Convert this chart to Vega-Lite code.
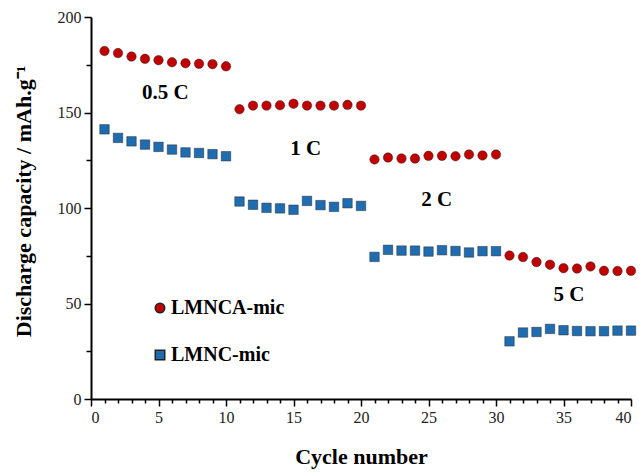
{
  "$schema": "https://vega.github.io/schema/vega-lite/v6.json",
  "width": 540,
  "height": 382,
  "autosize": "none",
  "padding": {"left": 91, "top": 17, "right": 13, "bottom": 73},
  "background": "white",
  "config": {
    "view": {"stroke": null},
    "axis": {
      "grid": false,
      "labelFont": "Liberation Serif",
      "labelFontSize": 16,
      "labelColor": "#222",
      "titleFont": "Liberation Serif",
      "titleFontWeight": "bold",
      "titleColor": "black",
      "domainColor": "black",
      "domainWidth": 2,
      "tickColor": "black",
      "tickWidth": 1.5
    }
  },
  "datasets": {
    "pts": [
      {"cycle": 1, "capacity": 182.2, "series": "LMNCA-mic"},
      {"cycle": 2, "capacity": 181.1, "series": "LMNCA-mic"},
      {"cycle": 3, "capacity": 179.3, "series": "LMNCA-mic"},
      {"cycle": 4, "capacity": 178.1, "series": "LMNCA-mic"},
      {"cycle": 5, "capacity": 177.4, "series": "LMNCA-mic"},
      {"cycle": 6, "capacity": 176.3, "series": "LMNCA-mic"},
      {"cycle": 7, "capacity": 175.8, "series": "LMNCA-mic"},
      {"cycle": 8, "capacity": 175.5, "series": "LMNCA-mic"},
      {"cycle": 9, "capacity": 175.3, "series": "LMNCA-mic"},
      {"cycle": 10, "capacity": 174.2, "series": "LMNCA-mic"},
      {"cycle": 11, "capacity": 151.7, "series": "LMNCA-mic"},
      {"cycle": 12, "capacity": 153.6, "series": "LMNCA-mic"},
      {"cycle": 13, "capacity": 153.6, "series": "LMNCA-mic"},
      {"cycle": 14, "capacity": 153.8, "series": "LMNCA-mic"},
      {"cycle": 15, "capacity": 154.6, "series": "LMNCA-mic"},
      {"cycle": 16, "capacity": 153.6, "series": "LMNCA-mic"},
      {"cycle": 17, "capacity": 153.6, "series": "LMNCA-mic"},
      {"cycle": 18, "capacity": 153.6, "series": "LMNCA-mic"},
      {"cycle": 19, "capacity": 154.0, "series": "LMNCA-mic"},
      {"cycle": 20, "capacity": 153.6, "series": "LMNCA-mic"},
      {"cycle": 21, "capacity": 125.4, "series": "LMNCA-mic"},
      {"cycle": 22, "capacity": 126.4, "series": "LMNCA-mic"},
      {"cycle": 23, "capacity": 125.9, "series": "LMNCA-mic"},
      {"cycle": 24, "capacity": 125.9, "series": "LMNCA-mic"},
      {"cycle": 25, "capacity": 127.3, "series": "LMNCA-mic"},
      {"cycle": 26, "capacity": 127.3, "series": "LMNCA-mic"},
      {"cycle": 27, "capacity": 127.1, "series": "LMNCA-mic"},
      {"cycle": 28, "capacity": 128.0, "series": "LMNCA-mic"},
      {"cycle": 29, "capacity": 127.5, "series": "LMNCA-mic"},
      {"cycle": 30, "capacity": 128.0, "series": "LMNCA-mic"},
      {"cycle": 31, "capacity": 75.1, "series": "LMNCA-mic"},
      {"cycle": 32, "capacity": 74.3, "series": "LMNCA-mic"},
      {"cycle": 33, "capacity": 71.7, "series": "LMNCA-mic"},
      {"cycle": 34, "capacity": 70.3, "series": "LMNCA-mic"},
      {"cycle": 35, "capacity": 68.5, "series": "LMNCA-mic"},
      {"cycle": 36, "capacity": 68.3, "series": "LMNCA-mic"},
      {"cycle": 37, "capacity": 69.4, "series": "LMNCA-mic"},
      {"cycle": 38, "capacity": 67.1, "series": "LMNCA-mic"},
      {"cycle": 39, "capacity": 67.0, "series": "LMNCA-mic"},
      {"cycle": 40, "capacity": 67.1, "series": "LMNCA-mic"},
      {"cycle": 1, "capacity": 141.2, "series": "LMNC-mic"},
      {"cycle": 2, "capacity": 136.7, "series": "LMNC-mic"},
      {"cycle": 3, "capacity": 134.9, "series": "LMNC-mic"},
      {"cycle": 4, "capacity": 133.2, "series": "LMNC-mic"},
      {"cycle": 5, "capacity": 132.0, "series": "LMNC-mic"},
      {"cycle": 6, "capacity": 130.6, "series": "LMNC-mic"},
      {"cycle": 7, "capacity": 129.1, "series": "LMNC-mic"},
      {"cycle": 8, "capacity": 128.8, "series": "LMNC-mic"},
      {"cycle": 9, "capacity": 128.2, "series": "LMNC-mic"},
      {"cycle": 10, "capacity": 127.1, "series": "LMNC-mic"},
      {"cycle": 11, "capacity": 103.4, "series": "LMNC-mic"},
      {"cycle": 12, "capacity": 101.7, "series": "LMNC-mic"},
      {"cycle": 13, "capacity": 100.1, "series": "LMNC-mic"},
      {"cycle": 14, "capacity": 99.8, "series": "LMNC-mic"},
      {"cycle": 15, "capacity": 99.1, "series": "LMNC-mic"},
      {"cycle": 16, "capacity": 103.7, "series": "LMNC-mic"},
      {"cycle": 17, "capacity": 101.5, "series": "LMNC-mic"},
      {"cycle": 18, "capacity": 100.6, "series": "LMNC-mic"},
      {"cycle": 19, "capacity": 102.5, "series": "LMNC-mic"},
      {"cycle": 20, "capacity": 101.1, "series": "LMNC-mic"},
      {"cycle": 21, "capacity": 74.4, "series": "LMNC-mic"},
      {"cycle": 22, "capacity": 78.1, "series": "LMNC-mic"},
      {"cycle": 23, "capacity": 77.7, "series": "LMNC-mic"},
      {"cycle": 24, "capacity": 77.7, "series": "LMNC-mic"},
      {"cycle": 25, "capacity": 77.2, "series": "LMNC-mic"},
      {"cycle": 26, "capacity": 77.9, "series": "LMNC-mic"},
      {"cycle": 27, "capacity": 77.5, "series": "LMNC-mic"},
      {"cycle": 28, "capacity": 76.7, "series": "LMNC-mic"},
      {"cycle": 29, "capacity": 77.4, "series": "LMNC-mic"},
      {"cycle": 30, "capacity": 77.4, "series": "LMNC-mic"},
      {"cycle": 31, "capacity": 30.2, "series": "LMNC-mic"},
      {"cycle": 32, "capacity": 34.8, "series": "LMNC-mic"},
      {"cycle": 33, "capacity": 35.1, "series": "LMNC-mic"},
      {"cycle": 34, "capacity": 36.7, "series": "LMNC-mic"},
      {"cycle": 35, "capacity": 36.0, "series": "LMNC-mic"},
      {"cycle": 36, "capacity": 35.6, "series": "LMNC-mic"},
      {"cycle": 37, "capacity": 35.5, "series": "LMNC-mic"},
      {"cycle": 38, "capacity": 35.5, "series": "LMNC-mic"},
      {"cycle": 39, "capacity": 35.8, "series": "LMNC-mic"},
      {"cycle": 40, "capacity": 35.8, "series": "LMNC-mic"}
    ],
    "notes": [
      {"cycle": 5.5, "capacity": 160, "label": "0.5 C"},
      {"cycle": 15.9, "capacity": 131, "label": "1 C"},
      {"cycle": 25.6, "capacity": 104, "label": "2 C"},
      {"cycle": 35.4, "capacity": 54.5, "label": "5 C"}
    ]
  },
  "encoding": {
    "x": {
      "field": "cycle", "type": "quantitative",
      "scale": {"domain": [0, 40], "nice": false},
      "axis": {
        "orient": "bottom",
        "domain": true, "domainColor": "black", "domainWidth": 2,
        "ticks": true, "tickColor": "black", "tickWidth": 1.5,
        "values": [0,1,2,3,4,5,6,7,8,9,10,11,12,13,14,15,16,17,18,19,20,21,22,23,24,25,26,27,28,29,30,31,32,33,34,35,36,37,38,39,40],
        "labelExpr": "datum.value % 5 === 0 ? datum.label : ''",
        "tickSize": {"condition": {"test": "datum.value % 5 === 0", "value": 7}, "value": 4},
        "labelPadding": 3,
        "title": "Cycle number", "titleFontSize": 22, "titlePadding": 21
      }
    },
    "y": {
      "field": "capacity", "type": "quantitative",
      "scale": {"domain": [0, 200], "nice": false},
      "axis": {
        "orient": "left",
        "domain": true, "domainColor": "black", "domainWidth": 2,
        "ticks": true, "tickColor": "black", "tickWidth": 1.5,
        "values": [0, 25, 50, 75, 100, 125, 150, 175, 200],
        "labelExpr": "datum.value % 50 === 0 ? datum.label : ''",
        "tickSize": {"condition": {"test": "datum.value % 50 === 0", "value": 7}, "value": 5},
        "labelPadding": 3,
        "title": "Discharge capacity / mAh.g⁻¹", "titleFontSize": 22, "titlePadding": 22,
        "titleY": 184
      }
    }
  },
  "layer": [
    {
      "data": {"name": "pts"},
      "mark": {"type": "point", "filled": true, "opacity": 1, "stroke": "#222", "strokeOpacity": 0.45, "strokeWidth": 1, "size": 90},
      "encoding": {
        "color": {
          "field": "series", "type": "nominal",
          "scale": {"domain": ["LMNCA-mic", "LMNC-mic"], "range": ["#C00000", "#1F6DB0"]},
          "legend": {
            "orient": "none", "legendX": 59, "legendY": 281,
            "title": null,
            "labelFont": "Liberation Serif", "labelFontWeight": "bold", "labelFontSize": 20,
            "labelColor": "black", "symbolSize": 90, "rowPadding": 27, "labelOffset": 1
          }
        },
        "shape": {
          "field": "series", "type": "nominal",
          "scale": {"domain": ["LMNCA-mic", "LMNC-mic"], "range": ["circle", "square"]},
          "legend": {
            "orient": "none", "legendX": 59, "legendY": 281,
            "title": null,
            "labelFont": "Liberation Serif", "labelFontWeight": "bold", "labelFontSize": 20,
            "labelColor": "black", "symbolSize": 90, "rowPadding": 27, "labelOffset": 1
          }
        }
      }
    },
    {
      "data": {"name": "notes"},
      "mark": {"type": "text", "font": "Liberation Serif", "fontWeight": "bold", "fontSize": 21, "color": "black", "align": "center", "baseline": "middle"},
      "encoding": {
        "text": {"field": "label"}
      }
    }
  ]
}
